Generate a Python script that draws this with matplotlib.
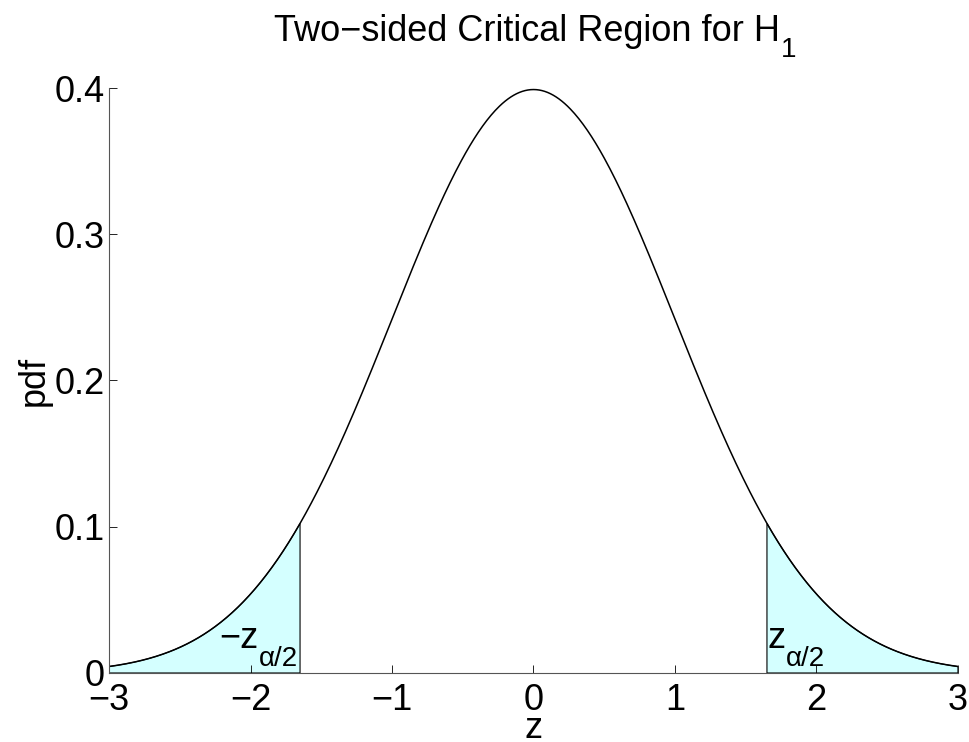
import numpy as np
import matplotlib
matplotlib.use("Agg")
import matplotlib.pyplot as plt

plt.rcParams['font.family'] = ['Liberation Sans', 'DejaVu Sans']

# axis setup
x_ticks = [-3, -2, -1, 0, 1, 2, 3]
x_tick_labels = ['\u22123', '\u22122', '\u22121', '0', '1', '2', '3']
y_ticks = [0, 0.1, 0.2, 0.3, 0.4]
y_tick_labels = ['0', '0.1', '0.2', '0.3', '0.4']

# critical value for alpha = 0.10 (two-sided)
z_crit = 1.645
z_min, z_max = -3, 3

FS = 26      # main font size
FS_SUB = 20  # subscript font size

# standard normal density
z = np.linspace(z_min, z_max, 601)
pdf = np.exp(-z ** 2 / 2) / np.sqrt(2 * np.pi)

fig = plt.figure(figsize=(9.7, 7.42), dpi=100)
ax = fig.add_axes([0.1124, 0.093, 0.8752, 0.7884])

# shaded tails
left = z <= -z_crit
right = z >= z_crit
for mask in (left, right):
    zz = z[mask]
    pp = pdf[mask]
    xs = np.concatenate([[zz[0]], zz, [zz[-1]]])
    ys = np.concatenate([[0], pp, [0]])
    ax.fill(xs, ys, facecolor='#d4ffff', edgecolor='black', linewidth=0.8)

ax.plot(z, pdf, color='black', linewidth=1.1)

ax.set_xlim(z_min, z_max)
ax.set_ylim(0, 0.4)
ax.set_xticks(x_ticks)
ax.set_xticklabels(x_tick_labels)
ax.set_yticks(y_ticks)
ax.set_yticklabels(y_tick_labels)
ax.tick_params(direction='in', length=6, width=0.6, labelsize=FS)
ax.tick_params(axis='x', pad=7)
ax.tick_params(axis='y', pad=3)
for side in ('top', 'right'):
    ax.spines[side].set_visible(False)
for side in ('left', 'bottom'):
    ax.spines[side].set_linewidth(0.8)
    ax.spines[side].set_color('#555555')

ax.set_xlabel('z', fontsize=FS, labelpad=-5)
ax.set_ylabel('pdf', fontsize=FS, labelpad=2)


def text_with_sub(main, sub, x, y, transform, ha='left', sub_dy=-7):
    t = ax.text(x, y, main, fontsize=FS, ha=ha, va='baseline',
                transform=transform)
    ax.annotate(sub, xy=(1, 0), xycoords=t, xytext=(0.5, sub_dy),
                textcoords='offset points', fontsize=FS_SUB,
                ha='left', va='baseline')
    return t


# title with H_1
text_with_sub('Two\u2212sided Critical Region for H', '1',
              0.5433, 0.9447, fig.transFigure, ha='center', sub_dy=-6)

# critical value labels
text_with_sub('\u2212z', '\u03b1/2', -2.22, 0.0171, ax.transData)
text_with_sub('z', '\u03b1/2', 1.655, 0.0171, ax.transData)

fig.savefig('out.png', dpi=100)
